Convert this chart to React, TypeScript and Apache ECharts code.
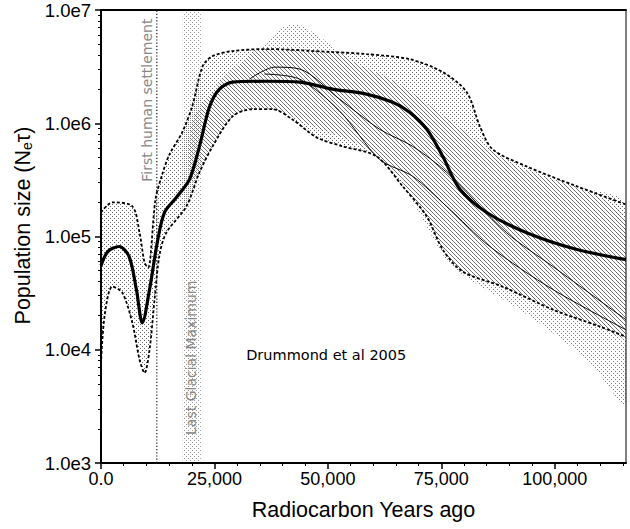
import React, { useEffect, useRef } from "react";
import * as echarts from "echarts";

// ---- axis ticks ----
const xMajorTicks = [0, 25000, 50000, 75000, 100000];
const xMinorTicks = [5000, 10000, 15000, 20000, 30000, 35000, 40000, 45000, 55000, 60000, 65000, 70000, 80000, 85000, 90000, 95000, 105000, 110000, 115000];
const yMinorTicks = [2000, 3000, 4000, 5000, 6000, 7000, 8000, 9000, 20000, 30000, 40000, 50000, 60000, 70000, 80000, 90000, 200000, 300000, 400000, 500000, 600000, 700000, 800000, 900000, 2000000, 3000000, 4000000, 5000000, 6000000, 7000000, 8000000, 9000000];

// ---- analysis 1 (skyline): median & 95% HPD ----
const medianYears = [0, 1500, 4000, 6200, 7800, 9100, 10700, 12400, 14000, 16600, 19500, 21700, 23900, 26100, 29000, 36500, 43800, 51000, 58500, 64300, 68000, 71800, 75300, 79100, 85000, 93800, 104900, 115700];
const medianNe = [55300, 73600, 81600, 66500, 34000, 17300, 34000, 88500, 163000, 221000, 319000, 625000, 1390000, 2000000, 2310000, 2350000, 2310000, 2000000, 1810000, 1530000, 1250000, 885000, 511000, 261000, 163000, 108000, 76700, 62500];

const upperYears = [0, 2500, 6900, 8500, 9600, 10400, 12000, 13500, 15100, 17900, 20100, 22400, 24600, 29000, 36500, 51100, 58500, 68000, 75300, 80600, 83500, 86300, 93800, 104900, 115700];
const upperNe = [163000, 200000, 185000, 108000, 58900, 53200, 212000, 354000, 532000, 832000, 1410000, 3190000, 3920000, 4340000, 4520000, 4250000, 4080000, 3680000, 2830000, 1880000, 940000, 589000, 416000, 277000, 192000];

const lowerYears = [0, 800, 2500, 4700, 6900, 8500, 9600, 10700, 11800, 12900, 14400, 18800, 21700, 24600, 29000, 33400, 37800, 42200, 47500, 53300, 60700, 66500, 71800, 75300, 79700, 88500, 99600, 110000, 115700];
const lowerNe = [7500, 20000, 36100, 31900, 17300, 8160, 6250, 10000, 27700, 69000, 108000, 184000, 368000, 625000, 1150000, 1330000, 1330000, 1080000, 751000, 625000, 511000, 277000, 150000, 76700, 49000, 36100, 22600, 16000, 13000];

// ---- analysis 2 (parametric): band & curves ----
const band2UpperYears = [20000, 25000, 30000, 34000, 36500, 39300, 43100, 46600, 51000, 55000, 65000, 75000, 90000, 115700];
const band2UpperNe = [1000000, 2000000, 3200000, 4300000, 5200000, 6800000, 7500000, 6400000, 4800000, 3600000, 2300000, 1200000, 450000, 140000];
const band2LowerYears = [20000, 24600, 29000, 34000, 40000, 45000, 55000, 62000, 66000, 70200, 77500, 92300, 107100, 115700];
const band2LowerNe = [300000, 625000, 1150000, 1350000, 1250000, 1000000, 700000, 480000, 320000, 160000, 54300, 22600, 8200, 3400];

const curveAYears = [32700, 38300, 43800, 52600, 61400, 68700, 76200, 89400, 99600, 115700];
const curveANe = [2450000, 3130000, 3010000, 1630000, 885000, 625000, 368000, 108000, 54300, 18400];
const curveBYears = [36000, 43800, 52600, 61400, 68700, 76200, 85700, 99600, 115700];
const curveBNe = [2720000, 2450000, 1280000, 480000, 340000, 184000, 81600, 34000, 15000];

// ---- annotations ----
const firstSettlementYear = 12300;
const lgmStart = 18000;
const lgmEnd = 22000;

const FONT = "Liberation Sans";
const ANNOT_FONT = "DejaVu Sans";

const pairs = (xs: number[], ys: number[]) => xs.map((x, i) => [x, ys[i]]);

function makePattern(pts: number[][], color: string) {
  const c = document.createElement("canvas");
  c.width = 4;
  c.height = 4;
  const g = c.getContext("2d")!;
  g.fillStyle = color;
  pts.forEach(([x, y]) => g.fillRect(x, y, 1, 1));
  return { image: c.toDataURL(), repeat: "repeat", imageWidth: 4, imageHeight: 4 };
}

function bandSeries(ux: number[], uy: number[], lx: number[], ly: number[], fill: any, z: number) {
  return {
    type: "custom",
    coordinateSystem: "cartesian2d",
    data: [[50000, 100000]],
    silent: true,
    clip: true,
    z,
    renderItem: (_params: any, api: any) => {
      const pts: number[][] = [];
      for (let i = 0; i < ux.length; i++) pts.push(api.coord([ux[i], uy[i]]));
      for (let i = lx.length - 1; i >= 0; i--) pts.push(api.coord([lx[i], ly[i]]));
      return { type: "polygon", shape: { points: pts, smooth: 0.3 }, style: { fill, stroke: null } };
    },
  };
}

export default function App() {
  const ref = useRef<HTMLDivElement>(null);
  useEffect(() => {
    if (!ref.current) return;
    const chart = echarts.init(ref.current, null, { renderer: "svg" });
    const dots1 = makePattern([[0, 0], [2, 2]], "rgba(0,0,0,0.6)");
    const dots2 = makePattern([[1, 1], [3, 3]], "rgba(0,0,0,0.5)");
    const dots3 = makePattern([[0, 2], [2, 0]], "rgba(0,0,0,0.4)");

    const lineBase = { type: "line", showSymbol: false, symbol: "none", silent: true, smooth: 0.3, z: 5 };

    chart.setOption({
      animation: false,
      backgroundColor: "#fff",
      grid: { left: 101, right: 4, top: 10, bottom: 66, show: true, borderColor: "#000", borderWidth: 1 },
      xAxis: [
        {
          type: "value",
          min: 0,
          max: 115700,
          interval: 25000,
          position: "bottom",
          axisLine: { show: true, onZero: false, lineStyle: { color: "#000", width: 2 } },
          axisTick: { show: true, length: 6, lineStyle: { color: "#000", width: 1.5 } },
          axisLabel: {
            show: true,
            showMaxLabel: false,
            margin: 7,
            fontSize: 18,
            fontFamily: FONT,
            color: "#000",
            formatter: (v: number) => (v === 0 ? "0.0" : xMajorTicks.includes(v) ? v.toLocaleString("en-US") : ""),
          },
          splitLine: { show: false },
          name: "Radiocarbon Years ago",
          nameLocation: "middle",
          nameGap: 36,
          nameTextStyle: { fontSize: 21.5, fontFamily: FONT, color: "#000" },
        },
        {
          type: "value",
          min: 0,
          max: 115700,
          position: "bottom",
          axisLine: { show: false },
          axisTick: { show: true, length: 3, customValues: xMinorTicks, lineStyle: { color: "#000", width: 1 } },
          axisLabel: { show: false },
          splitLine: { show: false },
        },
        {
          type: "value",
          min: 0,
          max: 115700,
          position: "top",
          axisLine: { show: true, onZero: false, lineStyle: { color: "#000", width: 2 } },
          axisTick: { show: false },
          axisLabel: { show: false },
          splitLine: { show: false },
        },
      ],
      yAxis: [
        {
          type: "log",
          logBase: 10,
          min: 1000,
          max: 10000000,
          position: "left",
          axisLine: { show: true, onZero: false, lineStyle: { color: "#000", width: 2 } },
          axisTick: { show: true, length: 6, lineStyle: { color: "#000", width: 1.5 } },
          axisLabel: {
            margin: 10,
            fontSize: 18.5,
            fontFamily: FONT,
            color: "#000",
            formatter: (v: number) => "1.0e" + Math.round(Math.log10(v)),
          },
          splitLine: { show: false },
          name: "Population size (N{sub|e}τ)",
          nameLocation: "middle",
          nameGap: 62,
          nameTextStyle: {
            fontSize: 21.5,
            fontFamily: FONT,
            color: "#000",
            padding: [0, 0, 0, 22],
            rich: { sub: { fontSize: 14, fontFamily: FONT, color: "#000", verticalAlign: "bottom", padding: [6, 0, 0, 0] } },
          },
        },
        {
          type: "log",
          logBase: 10,
          min: 1000,
          max: 10000000,
          position: "left",
          axisLine: { show: false },
          axisTick: { show: true, length: 3, customValues: yMinorTicks, lineStyle: { color: "#000", width: 1 } },
          axisLabel: { show: false },
          splitLine: { show: false },
        },
      ],
      series: [
        {
          type: "custom",
          coordinateSystem: "cartesian2d",
          data: [[20000, 100000]],
          silent: true,
          z: 1,
          renderItem: (_p: any, api: any) => {
            const a = api.coord([lgmStart, 10000000]);
            const b = api.coord([lgmEnd, 1000]);
            return { type: "rect", shape: { x: a[0], y: a[1], width: b[0] - a[0], height: b[1] - a[1] }, style: { fill: dots3 } };
          },
        },
        bandSeries(upperYears, upperNe, lowerYears, lowerNe, dots1, 2),
        bandSeries(band2UpperYears, band2UpperNe, band2LowerYears, band2LowerNe, dots2, 2),
        {
          ...lineBase,
          smooth: false,
          data: [[firstSettlementYear, 1000], [firstSettlementYear, 10000000]],
          lineStyle: { color: "#111", width: 1.2, type: [1.2, 2] },
        },
        { ...lineBase, data: pairs(curveAYears, curveANe), lineStyle: { color: "#000", width: 1 } },
        { ...lineBase, data: pairs(curveBYears, curveBNe), lineStyle: { color: "#000", width: 1 } },
        { ...lineBase, data: pairs(upperYears, upperNe), lineStyle: { color: "#000", width: 1.8, type: [3, 2] } },
        { ...lineBase, data: pairs(lowerYears, lowerNe), lineStyle: { color: "#000", width: 1.8, type: [3, 2] } },
        { ...lineBase, data: pairs(medianYears, medianNe), lineStyle: { color: "#000", width: 3.2 } },
      ],
    });

    const p1 = chart.convertToPixel({ gridIndex: 0 }, [10200, 1600000]) as number[];
    const p2 = chart.convertToPixel({ gridIndex: 0 }, [19900, 8500]) as number[];
    const p3 = chart.convertToPixel({ gridIndex: 0 }, [32000, 9040]) as number[];
    chart.setOption({
      graphic: [
        {
          type: "text",
          x: p1[0],
          y: p1[1],
          rotation: Math.PI / 2,
          z: 10,
          style: { text: "First human settlement", font: `14px "${ANNOT_FONT}"`, fill: "#888", align: "center", verticalAlign: "middle", textAlign: "center", textVerticalAlign: "middle" },
        },
        {
          type: "text",
          x: p2[0],
          y: p2[1],
          rotation: Math.PI / 2,
          z: 10,
          style: { text: "Last Glacial Maximum", font: `14px "${ANNOT_FONT}"`, fill: "#888", align: "center", verticalAlign: "middle", textAlign: "center", textVerticalAlign: "middle" },
        },
        {
          type: "text",
          x: p3[0],
          y: p3[1],
          z: 10,
          style: { text: "Drummond et al 2005", font: `14.5px "${ANNOT_FONT}"`, fill: "#000", align: "left", verticalAlign: "middle", textAlign: "left", textVerticalAlign: "middle" },
        },
      ],
    });
    return () => chart.dispose();
  }, []);
  return <div ref={ref} style={{ position: "fixed", left: 0, top: 0, width: 630, height: 529, background: "#fff" }} />;
}
